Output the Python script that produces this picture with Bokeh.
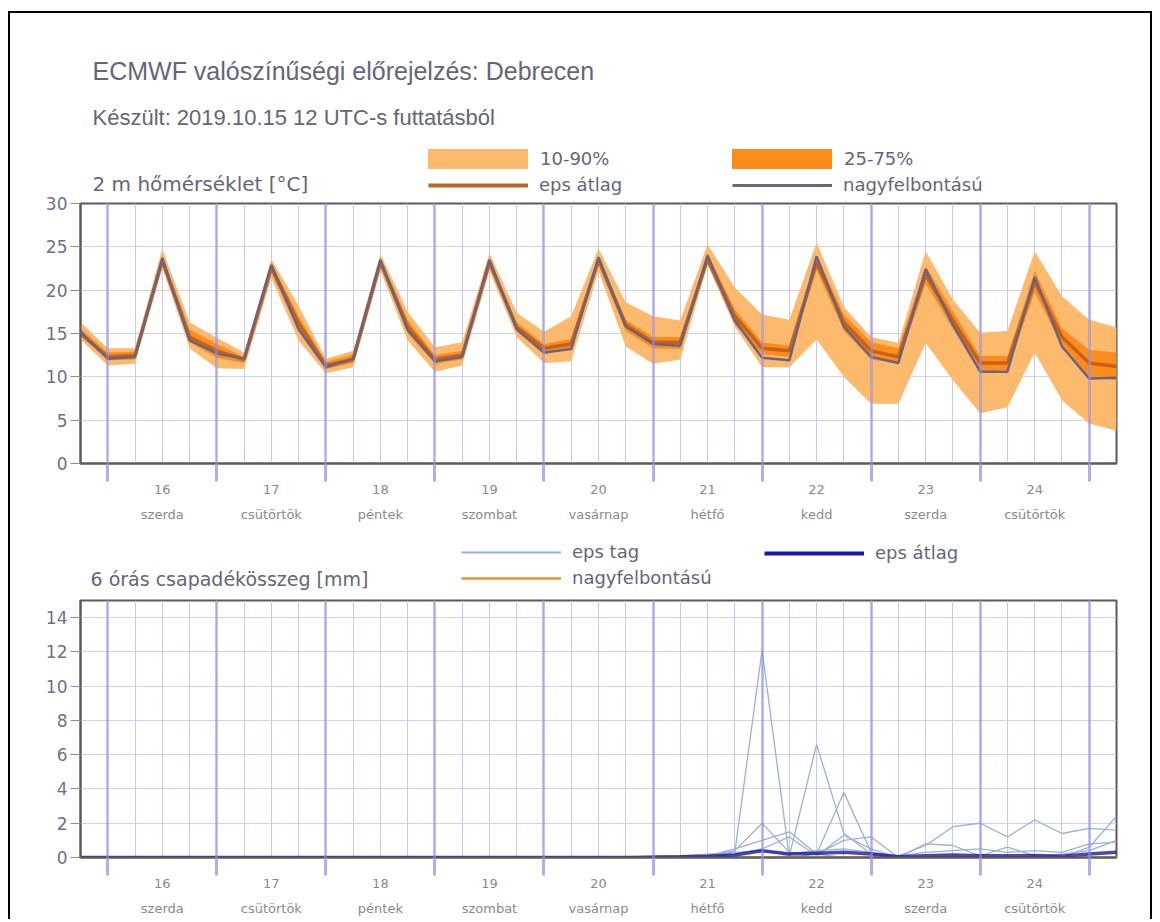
from bokeh.plotting import figure
from bokeh.layouts import column
from bokeh.models import (Range1d, LinearAxis, FixedTicker, Grid, Legend, LegendItem,
                          Label, ColumnDataSource)
from bokeh.embed import file_html
from bokeh.resources import INLINE

# ---------------- data ----------------
# hours relative to 2019-10-16 00 UTC (6-hourly steps, 15 18Z .. 25 06Z)
hours = [-6, 0, 6, 12, 18, 24, 30, 36, 42, 48, 54, 60, 66, 72, 78, 84, 90, 96, 102,
         108, 114, 120, 126, 132, 138, 144, 150, 156, 162, 168, 174, 180, 186, 192,
         198, 204, 210, 216, 222]
midnights = [0, 24, 48, 72, 96, 120, 144, 168, 192, 216]
noons = [12, 36, 60, 84, 108, 132, 156, 180, 204]
day_labels = ["16", "17", "18", "19", "20", "21", "22", "23", "24"]
weekday_labels = ["szerda", "csütörtök", "péntek", "szombat", "vasárnap",
                  "hétfő", "kedd", "szerda", "csütörtök"]
temp_ticks = [0, 5, 10, 15, 20, 25, 30]
prec_ticks = [0, 2, 4, 6, 8, 10, 12, 14]

temp_hires = [15.2, 12.1, 12.3, 23.7, 14.2, 12.7, 12.1, 22.9, 15.5, 11.1, 12.1, 23.5, 15.4,
              11.8, 12.3, 23.5, 15.5, 12.8, 13.2, 23.8, 15.8, 13.8, 13.6, 24.0, 16.5, 12.2,
              11.9, 23.9, 15.8, 12.3, 11.6, 22.4, 16.0, 10.6, 10.6, 21.5, 13.5, 9.8, 9.9]
temp_mean = [15.0, 12.3, 12.5, 23.4, 14.6, 13.0, 12.0, 22.6, 16.2, 11.3, 12.0, 23.2, 15.8,
             12.0, 12.5, 23.2, 15.7, 13.3, 13.8, 23.5, 16.0, 14.0, 14.0, 23.6, 17.0, 13.3,
             13.0, 23.2, 16.3, 13.0, 12.3, 21.8, 16.5, 11.6, 11.6, 21.0, 14.6, 11.6, 11.2]
temp_q25 = [14.8, 11.9, 12.0, 23.0, 14.0, 12.2, 11.6, 22.0, 15.3, 10.9, 11.6, 22.8, 15.0,
            11.5, 12.0, 22.7, 15.2, 12.6, 13.2, 22.9, 15.3, 13.3, 13.2, 23.0, 16.0, 12.6,
            12.3, 22.3, 15.3, 12.0, 11.5, 20.8, 15.5, 10.6, 10.8, 19.8, 13.6, 10.0, 9.6]
temp_q75 = [15.6, 12.8, 12.9, 24.0, 15.5, 13.8, 12.3, 23.2, 17.0, 11.7, 12.6, 23.7, 16.6,
            12.5, 13.0, 23.7, 16.3, 13.8, 14.4, 24.0, 16.6, 14.6, 14.6, 24.3, 17.8, 14.0,
            13.6, 24.0, 17.2, 14.0, 13.3, 22.8, 17.6, 12.4, 12.4, 22.2, 15.6, 13.1, 12.8]
temp_q10 = [14.3, 11.3, 11.5, 22.6, 13.3, 11.0, 10.9, 21.4, 14.2, 10.4, 11.1, 22.3, 14.2,
            10.6, 11.3, 22.2, 14.6, 11.6, 11.8, 22.2, 13.5, 11.5, 12.0, 23.0, 15.8, 11.1,
            11.1, 14.3, 10.0, 6.9, 6.9, 13.9, 9.6, 5.8, 6.5, 12.8, 7.3, 4.6, 3.8]
temp_q90 = [16.3, 13.3, 13.3, 24.8, 16.3, 14.5, 12.8, 23.6, 18.2, 12.1, 13.0, 24.2, 17.5,
            13.4, 14.0, 24.3, 17.4, 15.2, 17.0, 24.8, 18.6, 17.0, 16.5, 25.3, 20.3, 17.2,
            16.6, 25.5, 18.1, 14.6, 13.9, 24.5, 18.9, 15.1, 15.3, 24.5, 19.3, 16.6, 15.7]

prec_member_1 = [0, 0, 0, 0, 0, 0, 0, 0, 0, 0,
                 0, 0, 0, 0, 0, 0, 0, 0, 0, 0,
                 0, 0, 0, 0, 0.3, 12.1, 0, 0, 0, 0,
                 0, 0, 0, 0, 0, 0, 0, 0, 0]
prec_member_2 = [0, 0, 0, 0, 0, 0, 0, 0, 0, 0,
                 0, 0, 0, 0, 0, 0, 0, 0, 0, 0,
                 0, 0, 0, 0, 0, 0, 0.1, 6.6, 1.4, 0.2,
                 0, 0, 0, 0, 0, 0, 0, 0, 0]
prec_member_3 = [0, 0, 0, 0, 0, 0, 0, 0, 0, 0,
                 0, 0, 0, 0, 0, 0, 0, 0, 0, 0,
                 0, 0, 0, 0, 0, 0, 0, 0.2, 3.8, 0.3,
                 0, 0, 0, 0, 0, 0, 0, 0, 0]
prec_member_4 = [0, 0, 0, 0, 0, 0, 0, 0, 0, 0,
                 0, 0, 0, 0, 0, 0, 0, 0, 0, 0,
                 0, 0, 0, 0.1, 0.4, 2.0, 0.3, 0.2, 0, 0,
                 0, 0, 0, 0, 0, 0, 0, 0, 0]
prec_member_5 = [0, 0, 0, 0, 0, 0, 0, 0, 0, 0,
                 0, 0, 0, 0, 0, 0, 0, 0, 0, 0,
                 0, 0, 0, 0.1, 0.5, 1.0, 1.5, 0.2, 1.0, 1.2,
                 0, 0, 0, 0, 0, 0, 0, 0, 0]
prec_member_6 = [0, 0, 0, 0, 0, 0, 0, 0, 0, 0,
                 0, 0, 0, 0, 0, 0, 0, 0, 0, 0,
                 0, 0, 0, 0, 0, 0, 0, 0, 0, 0,
                 0.1, 0.7, 1.8, 2.0, 1.2, 2.2, 1.4, 1.7, 1.6]
prec_member_7 = [0, 0, 0, 0, 0, 0, 0, 0, 0, 0,
                 0, 0, 0, 0, 0, 0, 0, 0, 0, 0,
                 0, 0, 0, 0, 0, 0, 0, 0, 0, 0,
                 0, 0.8, 0.7, 0.1, 0.6, 0.1, 0, 0.6, 2.4]
prec_member_8 = [0, 0, 0, 0, 0, 0, 0, 0, 0, 0,
                 0, 0, 0, 0, 0, 0, 0, 0, 0, 0,
                 0, 0, 0, 0, 0, 0, 0, 0, 0, 0,
                 0, 0, 0, 0, 0, 0, 0.2, 0.4, 1.0]
prec_member_9 = [0, 0, 0, 0, 0, 0, 0, 0, 0, 0,
                 0, 0, 0, 0, 0, 0, 0, 0, 0, 0,
                 0, 0, 0, 0, 0.2, 0.5, 1.2, 0.1, 1.3, 0.5,
                 0, 0, 0, 0, 0, 0, 0, 0, 0]
prec_member_10 = [0, 0, 0, 0, 0, 0, 0, 0, 0, 0,
                  0, 0, 0, 0, 0, 0, 0, 0, 0, 0,
                  0, 0.1, 0.1, 0.2, 0.3, 0.4, 0.2, 0.4, 0.5, 0.3,
                  0.1, 0.3, 0.4, 0.5, 0.3, 0.4, 0.3, 0.8, 0.9]
prec_mean = [0, 0, 0, 0, 0, 0, 0, 0, 0, 0,
             0, 0, 0, 0, 0, 0, 0, 0, 0, 0,
             0, 0.02, 0.04, 0.08, 0.15, 0.4, 0.2, 0.25, 0.3, 0.2,
             0.05, 0.1, 0.15, 0.1, 0.1, 0.12, 0.08, 0.2, 0.3]
prec_hires = [0, 0, 0, 0, 0, 0, 0, 0, 0, 0,
              0, 0, 0, 0, 0, 0, 0, 0, 0, 0,
              0, 0, 0, 0, 0, 0, 0, 0, 0, 0,
              0, 0, 0, 0, 0, 0, 0, 0, 0]
prec_members = [prec_member_1, prec_member_2, prec_member_3, prec_member_4, prec_member_5,
                prec_member_6, prec_member_7, prec_member_8, prec_member_9, prec_member_10]

# ---------------- style ----------------
FONT = "DejaVu Sans"
FONT2 = "Liberation Sans"
TXT = "#65657a"
TICKTXT = "#6e6e90"
FRAME = "#5a5a5e"
W = 1140

C_1090 = "#fdba6c"
C_2575 = "#fd8c1c"
C_TMEAN = "#c4621a"
C_THIRES = "#6c6286"
C_MEMBER = "#98b0de"
C_PHIRES = "#f0922b"
C_PMEAN = "#0c0c96"


def base_fig(height, top, bottom, ymax, yticks):
    p = figure(width=W, height=height, x_range=Range1d(-6, 222), y_range=Range1d(0, ymax),
               x_axis_type=None, y_axis_type=None, output_backend="svg", toolbar_location=None,
               min_border_left=70, min_border_right=34, min_border_top=top,
               min_border_bottom=bottom)
    p.outline_line_color = FRAME
    p.outline_line_width = 2
    p.border_fill_color = "white"
    p.background_fill_color = "white"
    p.add_layout(Grid(dimension=1, ticker=FixedTicker(ticks=yticks),
                      grid_line_color="#d0d0f4", grid_line_width=1))
    p.add_layout(Grid(dimension=0, ticker=FixedTicker(ticks=hours),
                      grid_line_color="#c8c8f2", grid_line_width=1))
    p.add_layout(Grid(dimension=0, ticker=FixedTicker(ticks=midnights),
                      grid_line_color="#8f8fee", grid_line_alpha=0.55,
                      grid_line_width=3, level="overlay"))
    yaxis = LinearAxis(ticker=FixedTicker(ticks=yticks), axis_line_color=FRAME,
                       axis_line_width=2, major_tick_out=10, major_tick_in=0,
                       major_tick_line_color="#8a8a9a", minor_tick_line_color=None,
                       major_label_standoff=3, major_label_text_font=FONT,
                       major_label_text_font_size="17px",
                       major_label_text_color=TICKTXT)
    p.add_layout(yaxis, "left")
    xaxis1 = LinearAxis(ticker=FixedTicker(ticks=noons, minor_ticks=midnights),
                        major_label_overrides={t: d for t, d in zip(noons, day_labels)},
                        axis_line_color=FRAME, axis_line_width=2,
                        major_tick_line_color=None, major_tick_out=0, major_tick_in=0,
                        minor_tick_line_color="#9a9aee", minor_tick_line_alpha=0.8,
                        minor_tick_line_width=3, minor_tick_out=18, minor_tick_in=0,
                        major_label_standoff=3, major_label_text_font=FONT,
                        major_label_text_font_size="13px", major_label_text_color="#8a8a8a")
    p.add_layout(xaxis1, "below")
    xaxis2 = LinearAxis(ticker=FixedTicker(ticks=noons),
                        major_label_overrides={t: d for t, d in zip(noons, weekday_labels)},
                        axis_line_color=None, major_tick_line_color=None,
                        minor_tick_line_color=None, major_tick_out=0, major_tick_in=0,
                        major_label_standoff=10, major_label_text_font=FONT,
                        major_label_text_font_size="13px", major_label_text_color="#8a8a8a")
    p.add_layout(xaxis2, "below")
    return p


def header_fig(height):
    # frame of this figure is aligned by the column with the panels below (x from 80 px)
    h = figure(width=W, height=height, x_range=Range1d(0, 1036), y_range=Range1d(0, height),
               x_axis_type=None, y_axis_type=None, output_backend="svg", toolbar_location=None,
               min_border_left=70, min_border_right=34, min_border_top=0, min_border_bottom=0)
    h.outline_line_color = None
    h.border_fill_color = "white"
    h.background_fill_color = "white"
    return h


def make_legend(items, x, y, spacing=5, gw=100, gh=20, standoff=11):
    return Legend(items=items, location=(x, y), orientation="vertical",
                  glyph_width=gw, glyph_height=gh, label_standoff=standoff, spacing=spacing,
                  padding=0, margin=0, border_line_color=None, background_fill_alpha=0,
                  label_text_font=FONT, label_text_font_size="18px",
                  label_text_color=TXT)


# legend swatches: off-screen samples so that the legend draws the keys
key_x = [-60, -50]
key_lo = [-5, -5]
key_hi = [-4, -4]

# ---------------- header of temperature panel ----------------
h1 = header_fig(182)
lg_1090 = h1.varea(x=key_x, y1=key_lo, y2=key_hi, fill_color=C_1090)
lg_2575 = h1.varea(x=key_x, y1=key_lo, y2=key_hi, fill_color=C_2575)
lg_tmean = h1.line(x=key_x, y=key_lo, line_color=C_TMEAN, line_width=4)
lg_thires = h1.line(x=key_x, y=key_lo, line_color=C_THIRES, line_width=3)
h1.add_layout(make_legend([LegendItem(label="10-90%", renderers=[lg_1090])],
                          335, 24, gw=125, gh=25, standoff=-2))
h1.add_layout(make_legend([LegendItem(label="eps átlag", renderers=[lg_tmean])],
                          348, 0))
h1.add_layout(make_legend([LegendItem(label="25-75%", renderers=[lg_2575])],
                          639, 24, gw=125, gh=25, standoff=-2))
h1.add_layout(make_legend([LegendItem(label="nagyfelbontású", renderers=[lg_thires])],
                          652, 0))
h1.add_layout(Label(x=12, y=125, x_units="screen", y_units="screen",
                    text="ECMWF valószínűségi előrejelzés: Debrecen", text_font=FONT2,
                    text_font_size="25px", text_color=TXT, text_baseline="middle"))
h1.add_layout(Label(x=12, y=78, x_units="screen", y_units="screen",
                    text="Készült: 2019.10.15 12 UTC-s futtatásból", text_font=FONT2,
                    text_font_size="22px", text_color=TXT, text_baseline="middle"))
h1.add_layout(Label(x=12, y=12, x_units="screen", y_units="screen",
                    text="2 m hőmérséklet [°C]", text_font=FONT,
                    text_font_size="20px", text_color=TXT, text_baseline="middle"))

# ---------------- temperature ----------------
tsrc = ColumnDataSource(dict(h=hours, hires=temp_hires, mean=temp_mean, q10=temp_q10,
                             q90=temp_q90, q25=temp_q25, q75=temp_q75))
p1 = base_fig(335, 8, 67, 30, temp_ticks)
p1.varea(x="h", y1="q10", y2="q90", source=tsrc, fill_color=C_1090)
p1.varea(x="h", y1="q25", y2="q75", source=tsrc, fill_color=C_2575)
p1.line(x="h", y="mean", source=tsrc, line_color=C_TMEAN, line_width=3.5)
p1.line(x="h", y="hires", source=tsrc, line_color=C_THIRES, line_width=2.5)

# ---------------- header of precipitation panel ----------------
h2 = header_fig(62)
lg_mem = h2.line(x=key_x, y=key_lo, line_color=C_MEMBER, line_width=2)
lg_phires = h2.line(x=key_x, y=key_lo, line_color=C_PHIRES, line_width=2.5)
lg_pmean = h2.line(x=key_x, y=key_lo, line_color="#1414b4", line_width=4)
h2.add_layout(make_legend([LegendItem(label="eps tag", renderers=[lg_mem]),
                           LegendItem(label="nagyfelbontású", renderers=[lg_phires])],
                          381, 4))
h2.add_layout(make_legend([LegendItem(label="eps átlag", renderers=[lg_pmean])],
                          684, 29))
h2.add_layout(Label(x=10, y=14, x_units="screen", y_units="screen",
                    text="6 órás csapadékösszeg [mm]", text_font=FONT,
                    text_font_size="19px", text_color=TXT, text_baseline="middle"))

# ---------------- precipitation ----------------
p2 = base_fig(327, 8, 62, 15, prec_ticks)
msrc = ColumnDataSource(dict(xs=[hours for _ in prec_members], ys=prec_members))
p2.multi_line(xs="xs", ys="ys", source=msrc, line_color=C_MEMBER, line_width=1.3)
psrc = ColumnDataSource(dict(h=hours, mean=prec_mean, hires=prec_hires))
p2.line(x="h", y="hires", source=psrc, line_color=C_PHIRES, line_width=3)
p2.line(x="h", y="mean", source=psrc, line_color=C_PMEAN, line_width=3.5, line_alpha=0.75)

layout = column(h1, p1, h2, p2, spacing=0,
                styles={"margin-top": "11px", "margin-left": "8px",
                        "border-top": "2px solid black", "border-left": "2px solid black",
                        "border-right": "2px solid black"})

open("out.html", "w").write(file_html(layout, INLINE))
